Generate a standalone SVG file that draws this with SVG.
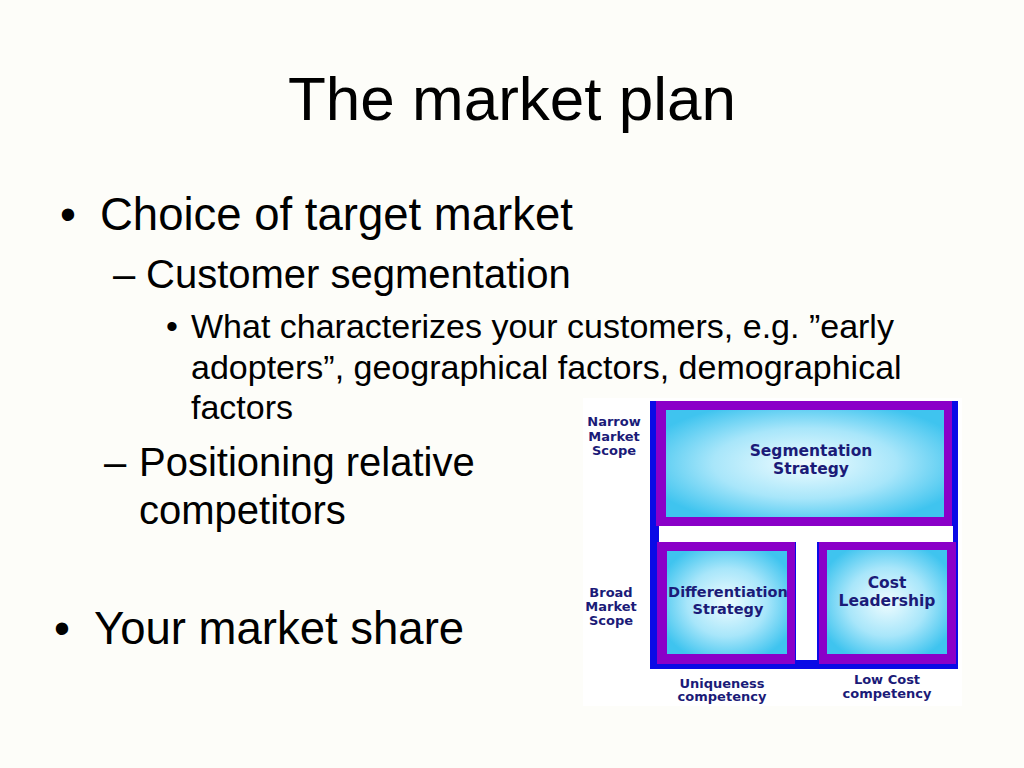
<svg xmlns="http://www.w3.org/2000/svg" width="1024" height="768" viewBox="0 0 1024 768">
<defs>
<radialGradient id="cy" cx="50%" cy="50%" r="60%">
<stop offset="0" stop-color="#effcff"/>
<stop offset="0.55" stop-color="#a8e6fa"/>
<stop offset="1" stop-color="#3fc4ef"/>
</radialGradient>
<style>
.t{font-family:"Liberation Sans",Arial,sans-serif;fill:#000}
.d{font-family:"DejaVu Sans",Verdana,sans-serif;font-weight:bold;fill:#1b1b78;text-anchor:middle}
.pu{fill:#8a00c8}
.cy{fill:url(#cy)}
</style>
</defs>
<rect width="1024" height="768" fill="#fdfdf9"/>
<g id="title"><text class="t" x="512" y="120" font-size="62" text-anchor="middle">The market plan</text></g>
<g id="bullets">
<text class="t" x="60" y="230" font-size="45.5">•</text>
<text class="t" x="100" y="230" font-size="45.5">Choice of target market</text>
<text class="t" x="113" y="288" font-size="40">–</text>
<text class="t" x="146" y="288" font-size="40">Customer segmentation</text>
<text class="t" x="166" y="338" font-size="34">•</text>
<text class="t" x="191" y="338" font-size="34">What characterizes your customers, e.g. ”early</text>
<text class="t" x="191" y="379" font-size="34">adopters”, geographical factors, demographical</text>
<text class="t" x="191" y="419" font-size="34">factors</text>
<text class="t" x="104" y="476" font-size="40">–</text>
<text class="t" x="139" y="476" font-size="40">Positioning relative</text>
<text class="t" x="139" y="524" font-size="40">competitors</text>
<text class="t" x="54" y="644" font-size="45.5">•</text>
<text class="t" x="94" y="644" font-size="45.5">Your market share</text>
</g>
<g id="matrix">
<rect x="583" y="398" width="379" height="308" fill="#ffffff"/>
<rect x="650" y="401" width="308" height="268" fill="#0a0ae6"/>
<rect x="659" y="526" width="294" height="16" fill="#ffffff"/>
<rect x="796" y="542" width="21" height="118" fill="#ffffff"/>
</g>
<g id="segmentation">
<rect class="pu" x="656" y="401" width="296" height="125"/>
<rect class="cy" x="666" y="410" width="278" height="107"/>
<text class="d" x="811" y="456" font-size="15.5">Segmentation</text>
<text class="d" x="811" y="474" font-size="15.5">Strategy</text>
</g>
<g id="differentiation">
<rect class="pu" x="657" y="542" width="138" height="122"/>
<rect class="cy" x="667" y="551" width="120" height="103"/>
<text class="d" x="728" y="597" font-size="14.5">Differentiation</text>
<text class="d" x="728" y="614" font-size="14.5">Strategy</text>
</g>
<g id="cost">
<rect class="pu" x="819" y="542" width="137" height="122"/>
<rect class="cy" x="827" y="550" width="120" height="104"/>
<text class="d" x="887" y="588" font-size="15.5">Cost</text>
<text class="d" x="887" y="606" font-size="15.5">Leadership</text>
</g>
<g id="labels">
<text class="d" x="614" y="426" font-size="13">Narrow</text>
<text class="d" x="614" y="441" font-size="13">Market</text>
<text class="d" x="614" y="455" font-size="13">Scope</text>
<text class="d" x="611" y="597" font-size="13">Broad</text>
<text class="d" x="611" y="611" font-size="13">Market</text>
<text class="d" x="611" y="625" font-size="13">Scope</text>
<text class="d" x="722" y="688" font-size="13">Uniqueness</text>
<text class="d" x="722" y="701" font-size="13">competency</text>
<text class="d" x="887" y="684" font-size="13">Low Cost</text>
<text class="d" x="887" y="698" font-size="13">competency</text>
</g>
<g id="connectors"/>
</svg>
